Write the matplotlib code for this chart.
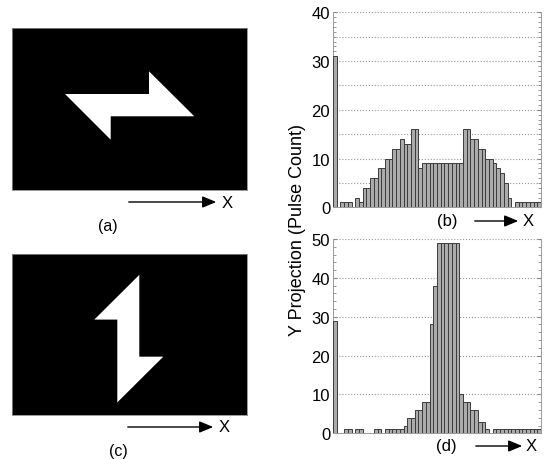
import matplotlib
matplotlib.use("Agg")
import matplotlib.pyplot as plt
from matplotlib.patches import Polygon, FancyArrowPatch
from matplotlib.ticker import MultipleLocator
import numpy as np

plt.rcParams['font.family'] = ['Liberation Sans', 'DejaVu Sans']

# histogram (b): projection of the horizontal shape
b_counts = [31, 0, 1, 1, 1, 0, 2, 1, 4, 4, 6, 6, 8, 8, 10, 10, 12, 12, 14, 13,
            13, 16, 16, 8, 9, 9, 9, 9, 9, 9, 9, 9, 9, 9, 9, 16, 16, 14, 14, 12,
            12, 10, 10, 9, 8, 7, 5, 2, 0, 1, 1, 1, 1, 1, 1, 1]
# histogram (d): projection of the vertical shape
d_counts = [29, 0, 0, 1, 1, 0, 1, 1, 0, 0, 0, 1, 1, 0, 1, 1, 1, 1, 1, 2,
            4, 4, 6, 6, 8, 8, 28, 38, 49, 49, 49, 49, 49, 49, 10, 8, 8, 6, 6, 3,
            3, 1, 0, 1, 1, 1, 1, 1, 1, 1, 1, 1, 1, 1, 1, 1]

# white shapes inside the 235x162 binary images (pixel coords, y down)
shape_a_x = [53, 137, 137, 182.3, 98.7, 98.7]
shape_a_y = [66, 66, 43.3, 88.3, 88.3, 111.7]
shape_c_x = [127.3, 127.3, 151.3, 105.3, 105.3, 82.3]
shape_c_y = [21, 103.3, 103.3, 149.3, 66, 66]
img_w, img_h = 235, 162

W, H = 545, 460
fig = plt.figure(figsize=(W / 100, H / 100), dpi=100)


def px_rect(left, top, right, bottom):
    return [left / W, 1 - bottom / H, (right - left) / W, (bottom - top) / H]


def draw_image(rect, xs, ys):
    ax = fig.add_axes(rect)
    ax.set_facecolor('black')
    ax.add_patch(Polygon(np.column_stack([xs, ys]), closed=True,
                         facecolor='white', edgecolor='none'))
    ax.set_xlim(0, img_w)
    ax.set_ylim(img_h, 0)
    ax.set_xticks([])
    ax.set_yticks([])
    for s in ax.spines.values():
        s.set_color('#888888')
        s.set_linewidth(0.6)
    return ax


def draw_hist(rect, counts, ymax, minor, grid_step):
    ax = fig.add_axes(rect)
    x = np.arange(len(counts))
    ax.bar(x, counts, width=1.0, facecolor='#ababab', edgecolor='#3c3c3c',
           linewidth=0.7, zorder=3)
    ax.set_xlim(-0.5, len(counts) - 0.5)
    ax.set_ylim(0, ymax)
    ax.yaxis.set_major_locator(MultipleLocator(10))
    ax.yaxis.set_minor_locator(MultipleLocator(minor))
    ax.set_xticks([])
    ax.tick_params(axis='y', which='both', direction='in', right=True,
                   color='#888888', labelsize=12, pad=2)
    ax.tick_params(axis='y', which='major', length=3)
    ax.tick_params(axis='y', which='minor', length=2)
    for yv in np.arange(grid_step, ymax + 0.1, grid_step):
        ax.axhline(yv, linestyle=':', color='#999999', linewidth=0.8, zorder=0)
    ax.spines['top'].set_visible(False)
    for s in ['left', 'right', 'bottom']:
        ax.spines[s].set_color('#999999')
        ax.spines[s].set_linewidth(0.7)
    return ax


def arrow_x(x0, x1, y, xlab, size):
    fig.add_artist(FancyArrowPatch(
        (x0 / W, 1 - y / H), (x1 / W, 1 - y / H), transform=fig.transFigure,
        arrowstyle='-|>,head_length=0.6,head_width=0.25', mutation_scale=14,
        color='black', linewidth=1.0))
    fig.text(xlab / W, 1 - y / H, 'X', fontsize=size, ha='left', va='center')


def label(x, y, s, size):
    fig.text(x / W, 1 - y / H, s, fontsize=size, ha='center', va='center')


draw_image(px_rect(12, 29, 247, 191), shape_a_x, shape_a_y)
draw_image(px_rect(12, 255, 247, 416), shape_c_x, shape_c_y)

draw_hist(px_rect(333, 13.3, 541, 208.3), b_counts, 40, 1, 5)
draw_hist(px_rect(333, 240, 541, 434.3), d_counts, 50, 2, 10)

arrow_x(126, 219, 203, 222, 12)
arrow_x(125, 216, 428, 219, 12)
arrow_x(472, 521, 222, 523, 12)
arrow_x(473, 525, 447, 526, 12)

label(108, 227, '(a)', 11.5)
label(118, 452, '(c)', 11.5)
label(447, 222, '(b)', 12)
label(446, 447, '(d)', 12)

fig.text(298 / W, 1 - 230 / H, 'Y Projection (Pulse Count)', fontsize=13,
         rotation=90, ha='center', va='center')

fig.savefig('out.png', dpi=100)
